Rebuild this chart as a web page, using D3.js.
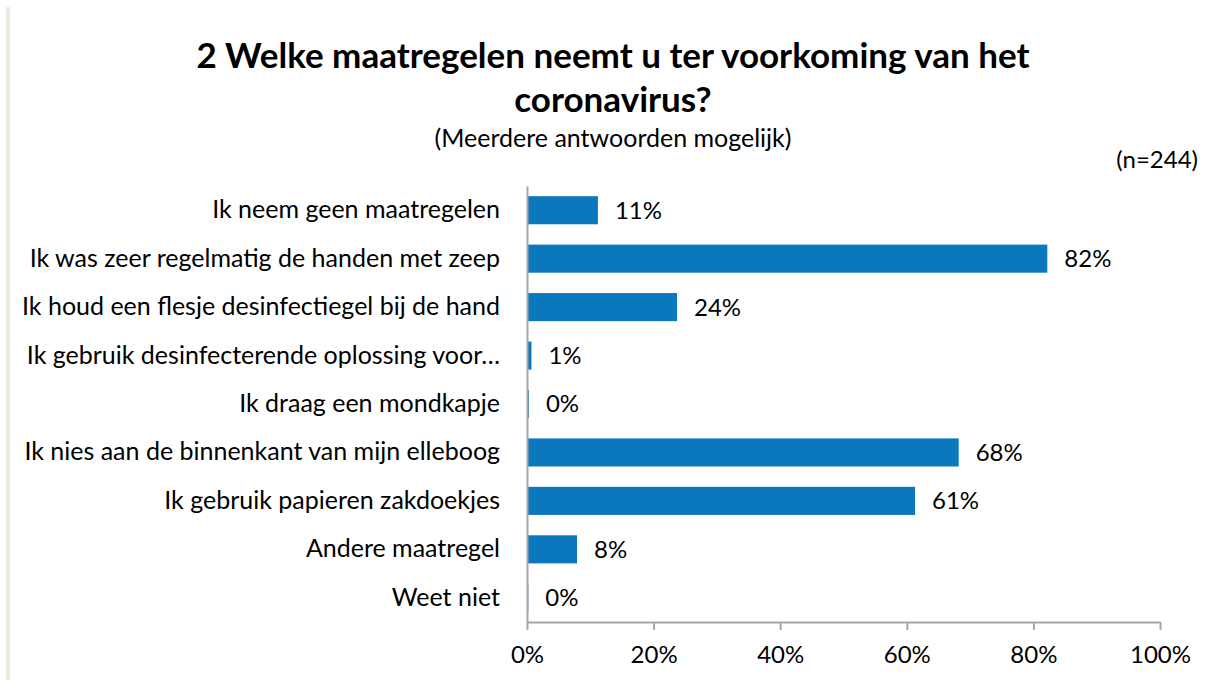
<!DOCTYPE html>
<html>
<head>
<meta charset="utf-8">
<script src="https://cdn.jsdelivr.net/npm/d3@7"></script>
<style>
  body { margin: 0; background: #fff; overflow: hidden; }
  svg { display: block; }
</style>
</head>
<body>
<svg id="mainFrame" width="1208" height="680" font-family="Lato, 'Open Sans', sans-serif"></svg>
<script>
const svg = d3.select('#mainFrame');
const width = +svg.attr('width');
const height = +svg.attr('height');

const categories = [
    'Ik neem geen maatregelen',
    'Ik was zeer regelmatig de handen met zeep',
    'Ik houd een flesje desinfectiegel bij de hand',
    'Ik gebruik desinfecterende oplossing voor…',
    'Ik draag een mondkapje',
    'Ik nies aan de binnenkant van mijn elleboog',
    'Ik gebruik papieren zakdoekjes',
    'Andere maatregel',
    'Weet niet'
];
const values = [11.2, 82.2, 23.7, 0.7, 0.3, 68.2, 61.3, 7.9, 0.2];
const valueLabels = ['11%', '82%', '24%', '1%', '0%', '68%', '61%', '8%', '0%'];
const xTicks = [0, 20, 40, 60, 80, 100];

const margin = { top: 186, right: 48, bottom: 58, left: 527 };
const innerWidth = width - margin.left - margin.right;
const innerHeight = height - margin.top - margin.bottom;

// light strip on the left edge
svg.append('rect')
    .attr('x', 6).attr('y', 7)
    .attr('width', 4).attr('height', height - 7)
    .attr('fill', '#eeebe0');

svg.append('text')
    .attr('x', 613).attr('y', 68)
    .attr('text-anchor', 'middle')
    .attr('font-size', 35).attr('font-weight', 'bold')
    .text('2 Welke maatregelen neemt u ter voorkoming van het');
svg.append('text')
    .attr('x', 613).attr('y', 112)
    .attr('text-anchor', 'middle')
    .attr('font-size', 35).attr('font-weight', 'bold')
    .text('coronavirus?');
svg.append('text')
    .attr('x', 613).attr('y', 147)
    .attr('text-anchor', 'middle')
    .attr('font-size', 25)
    .text('(Meerdere antwoorden mogelijk)');
svg.append('text')
    .attr('x', 1198).attr('y', 168)
    .attr('text-anchor', 'end')
    .attr('font-size', 24)
    .text('(n=244)');

const g = svg.append('g')
    .attr('transform', `translate(${margin.left},${margin.top})`);

const xScale = d3.scaleLinear()
    .domain([0, 100])
    .range([0, innerWidth]);

const yScale = d3.scaleBand()
    .domain(categories)
    .range([0, innerHeight])
    .paddingInner(0.42)
    .paddingOuter(0.21);

g.selectAll('rect.bar').data(categories)
    .enter().append('rect')
        .attr('class', 'bar')
        .attr('x', 0)
        .attr('y', d => yScale(d))
        .attr('width', (d, i) => xScale(values[i]))
        .attr('height', yScale.bandwidth())
        .attr('fill', '#0b77bd');

g.selectAll('text.value').data(categories)
    .enter().append('text')
        .attr('class', 'value')
        .attr('x', (d, i) => xScale(values[i]) + 17)
        .attr('y', d => yScale(d) + yScale.bandwidth() / 2)
        .attr('dy', '0.35em')
        .attr('font-size', 24)
        .attr('fill', '#000')
        .text((d, i) => valueLabels[i]);

const yAxis = d3.axisLeft(yScale).tickSize(0).tickPadding(27);
const yAxisGroup = g.append('g').call(yAxis)
    .attr('font-size', 25)
    .attr('font-family', null);
yAxisGroup.select('.domain').attr('stroke', '#a6a6a6').attr('stroke-width', 2);
yAxisGroup.selectAll('text').attr('fill', '#000');

const xAxis = d3.axisBottom(xScale)
    .tickValues(xTicks)
    .tickFormat(d => d + '%')
    .tickSize(8)
    .tickSizeOuter(0)
    .tickPadding(16);
const xAxisGroup = g.append('g')
    .attr('transform', `translate(0,${innerHeight})`)
    .call(xAxis)
    .attr('font-size', 24)
    .attr('font-family', null);
xAxisGroup.select('.domain').attr('stroke', '#a6a6a6').attr('stroke-width', 2);
xAxisGroup.selectAll('.tick line').attr('stroke', '#a6a6a6').attr('stroke-width', 2);
xAxisGroup.selectAll('text').attr('fill', '#000');
</script>
</body>
</html>
